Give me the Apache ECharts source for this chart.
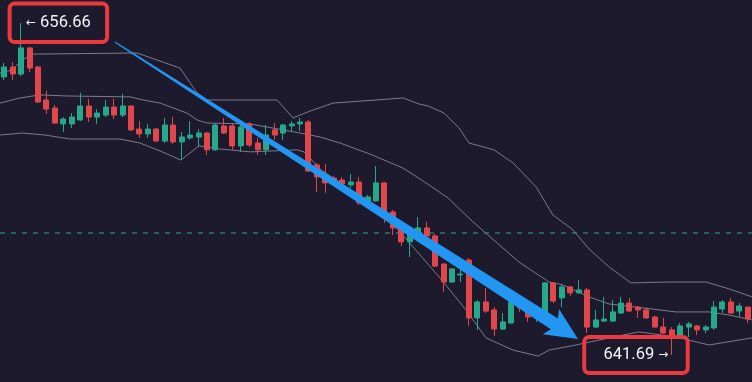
<!DOCTYPE html>
<html><head><meta charset="utf-8">
<script src="https://cdn.jsdelivr.net/npm/echarts@6/dist/echarts.min.js"></script>
<style>html,body{margin:0;padding:0;background:#1e1a2d;}#c{width:752px;height:382px;}</style>
</head><body><div id="c"></div>
<script>
// OHLC values (one per candle, left to right)
const opens = [
654.23,654.68,654.36,655.54,654.68,653.19,652.83,652.11,652.11,652.29,
652.92,652.42,652.51,652.87,652.51,652.92,651.88,651.66,651.88,651.34,
652.06,651.30,651.48,651.52,651.70,650.94,652.02,652.02,651.12,652.11,
651.25,650.94,651.84,651.70,652.02,652.11,652.20,650.26,649.72,649.67,
649.58,649.36,649.49,648.64,648.64,649.45,648.14,647.42,646.79,647.19,
647.42,647.06,645.79,644.98,645.30,645.97,643.36,644.08,643.72,642.86,
643.13,644.03,643.67,643.36,643.58,644.94,644.26,644.76,644.49,644.62,
642.95,643.22,643.22,643.58,644.03,643.85,643.72,643.40,642.95,642.82,
642.59,642.95,643.00,642.82,642.91,643.76,644.08,643.67,643.85];
const closes = [
654.68,654.36,655.54,654.63,653.10,652.78,652.15,652.33,652.42,652.92,
652.42,652.60,652.87,652.51,652.92,651.84,651.66,651.88,651.34,652.06,
651.30,651.52,651.61,651.70,650.94,652.06,651.70,651.12,651.97,651.16,
650.94,651.61,651.61,652.06,652.11,652.20,649.99,649.72,649.45,649.49,
649.40,649.49,648.55,648.82,649.45,648.09,647.42,646.79,647.10,647.42,
647.06,645.70,644.98,645.57,645.34,643.36,644.08,643.67,642.86,643.18,
644.08,643.81,643.40,643.72,644.94,644.12,644.76,644.49,644.62,642.95,
643.27,643.31,643.63,644.03,643.67,643.72,643.36,642.95,642.68,642.50,
643.00,643.09,642.82,642.95,643.85,644.08,643.58,643.90,643.31];
const lows = [
654.09,654.09,654.27,654.45,653.05,652.56,652.11,651.75,651.93,652.24,
652.20,652.11,652.42,652.33,652.42,651.79,651.48,651.48,651.30,651.25,
651.21,650.48,651.39,651.07,650.71,650.89,651.66,650.94,650.85,651.07,
650.71,650.71,651.39,651.39,651.75,651.79,649.94,649.04,649.00,649.36,
649.27,649.22,648.45,648.59,648.59,647.64,647.10,646.61,646.11,647.10,
647.01,645.66,644.53,644.94,644.98,643.00,642.82,643.58,642.55,642.82,
643.09,643.63,643.18,643.18,643.49,644.03,643.85,644.35,644.44,642.68,
642.91,643.18,643.18,643.54,643.63,643.36,643.31,642.91,642.64,641.69,
642.50,642.50,642.59,642.68,642.82,643.58,643.54,643.40,643.13];
const highs = [
654.86,654.90,656.66,655.58,654.72,653.60,652.96,652.42,652.60,653.51,
653.24,652.78,653.19,653.24,653.46,652.96,652.24,652.11,651.93,652.38,
652.42,651.75,652.24,651.88,651.75,652.15,652.38,652.11,652.20,652.20,
651.48,652.06,652.15,652.11,652.24,652.38,652.29,650.35,650.30,649.76,
649.72,649.85,649.72,648.91,650.21,649.49,648.23,647.46,647.42,647.91,
647.69,647.15,645.84,645.61,645.61,646.06,644.17,644.71,643.85,643.58,
644.12,644.17,643.90,643.94,644.98,644.98,644.85,644.80,645.07,644.71,
643.72,644.31,644.17,644.31,644.26,643.90,643.85,643.45,643.36,642.95,
643.13,643.18,643.04,643.04,644.12,644.17,644.26,644.03,643.85];

// Bollinger band vertices: [candle position, price]
const upperBand = [[-0.5,654.41],[0.92,654.54],[2.10,654.99],[3.41,655.26],[15.72,655.31],[20.80,654.63],[22.82,653.51],[24.00,653.19],[32.29,653.19],[34.18,652.38],[36.19,652.69],[38.91,653.05],[44.00,653.19],[47.20,653.28],[49.09,653.01],[50.16,652.92],[52.05,652.60],[53.83,651.93],[55.01,651.25],[57.97,650.94],[60.22,650.35],[62.94,649.27],[64.95,648.00],[67.32,647.33],[69.21,646.47],[71.58,645.66],[74.18,644.94],[78.68,644.98],[83.06,644.98],[85.78,644.67],[88.50,644.31]];
const middleBand = [[-0.5,653.05],[1.87,653.28],[4.23,653.42],[7.43,653.37],[14.89,653.33],[16.43,653.19],[18.44,653.05],[21.63,652.60],[22.82,652.29],[24.00,652.15],[29.09,652.11],[35.01,651.70],[37.38,651.52],[39.74,651.25],[43.29,650.75],[47.20,650.12],[49.92,649.45],[52.53,648.77],[55.48,647.69],[59.15,646.47],[60.93,645.88],[64.48,644.98],[66.13,644.85],[69.21,644.31],[71.58,643.99],[75.60,643.81],[79.51,643.63],[83.42,643.63],[85.78,643.49],[88.50,643.27]];
const lowerBand = [[-0.5,651.61],[2.10,651.70],[4.83,651.61],[7.79,651.43],[13.70,651.43],[16.07,651.25],[18.44,650.89],[20.92,650.48],[23.05,651.12],[25.54,650.98],[29.09,650.85],[34.65,650.94],[35.48,650.85],[37.38,650.08],[40.93,649.13],[44.00,648.32],[46.84,647.24],[51.58,645.16],[54.65,643.72],[57.02,642.46],[60.22,641.91],[63.18,641.64],[64.48,641.91],[67.67,642.14],[71.58,642.46],[75.13,642.73],[79.51,642.50],[83.42,642.14],[88.50,642.46]];

const categories = opens.map((_, i) => 'K' + (i + 1));
const dashedLevel = 647.19;
const highLabel = { index: 2, value: 656.66, text: '656.66' };
const lowLabel = { index: 79, value: 641.69, text: '641.69' };
const arrowFrom = [13.1, 655.81];
const arrowTo = [67.9, 642.41];

const UP = '#26a98a', DOWN = '#e0474a', BAND = '#7d7a8c';
const candles = opens.map((o, i) => [o, closes[i], lows[i], highs[i]]);
const bandSeries = (d) => ({ type: 'line', xAxisIndex: 1, yAxisIndex: 0, data: d, symbol: 'none', silent: true, z: 1,
  lineStyle: { color: BAND, width: 1 } });

const chart = echarts.init(document.getElementById('c'), null, { renderer: 'canvas' });
chart.setOption({
  backgroundColor: '#1e1a2d',
  animation: false,
  grid: { left: 0, right: 0, top: 0, bottom: 0 },
  xAxis: [
    { type: 'category', data: categories, show: false, boundaryGap: true },
    { type: 'value', min: -0.5, max: 88.5, show: false }
  ],
  yAxis: { type: 'value', min: 640.47, max: 657.70, show: false, splitLine: { show: false } },
  series: [
    bandSeries(upperBand),
    bandSeries(middleBand),
    bandSeries(lowerBand),
    { type: 'candlestick', data: candles, barWidth: 5.5, z: 3,
      itemStyle: { color: UP, color0: DOWN, borderColor: UP, borderColor0: DOWN, borderWidth: 1 } },
    { type: 'line', xAxisIndex: 1, yAxisIndex: 0, symbol: 'none', silent: true, z: 2,
      data: [[-0.5, dashedLevel], [88.5, dashedLevel]],
      lineStyle: { color: '#26a69a', type: [5, 6], width: 1.2 } }
  ]
});

const A = chart.convertToPixel({ seriesIndex: 0 }, arrowFrom);
const B = chart.convertToPixel({ seriesIndex: 0 }, arrowTo);
const dx = B[0] - A[0], dy = B[1] - A[1], len = Math.hypot(dx, dy);
const ux = dx / len, uy = dy / len, nx = -uy, ny = ux;
const headLen = 28, headW = 15, w0 = 0.6, w1 = 6.5;
const bx = B[0] - ux * headLen, by = B[1] - uy * headLen;
const arrowPts = [
  [A[0] + nx * w0, A[1] + ny * w0],
  [bx + nx * w1, by + ny * w1],
  [bx - ux * 4 + nx * headW, by - uy * 4 + ny * headW],
  B,
  [bx - ux * 4 - nx * headW, by - uy * 4 - ny * headW],
  [bx - nx * w1, by - ny * w1],
  [A[0] - nx * w0, A[1] - ny * w0]
];
const hp = chart.convertToPixel({ seriesIndex: 3 }, [highLabel.index, highLabel.value]);
const lp = chart.convertToPixel({ seriesIndex: 3 }, [lowLabel.index, lowLabel.value]);
const boxText = (t) => ({ style: { text: t, fill: '#f2f2f4', fontFamily: 'Roboto', fontSize: 16.5,
  rich: { a: { fontSize: 12, fill: '#f2f2f4', fontFamily: 'DejaVu Sans' },
          b: { fontSize: 16.5, fill: '#f4f4f6', fontFamily: 'Roboto' } } } });
chart.setOption({
  graphic: [
    { type: 'polygon', shape: { points: arrowPts }, style: { fill: '#2196f3' }, z: 10, silent: true },
    { type: 'rect', shape: { x: hp[0] - 11.5, y: hp[1] - 19.5, width: 97.5, height: 38.5, r: 5 },
      style: { fill: 'rgba(0,0,0,0)', stroke: '#ea3a3d', lineWidth: 4 }, z: 11, silent: true,
      textContent: boxText('{a|←} {b|' + highLabel.text + '}'), textConfig: { position: 'inside' } },
    { type: 'rect', shape: { x: lp[0] - 87.5, y: lp[1] - 18, width: 103.5, height: 36, r: 5 },
      style: { fill: 'rgba(0,0,0,0)', stroke: '#ea3a3d', lineWidth: 4 }, z: 11, silent: true,
      textContent: boxText('{b|' + lowLabel.text + '} {a|→}'), textConfig: { position: 'inside' } }
  ]
});
</script></body></html>
